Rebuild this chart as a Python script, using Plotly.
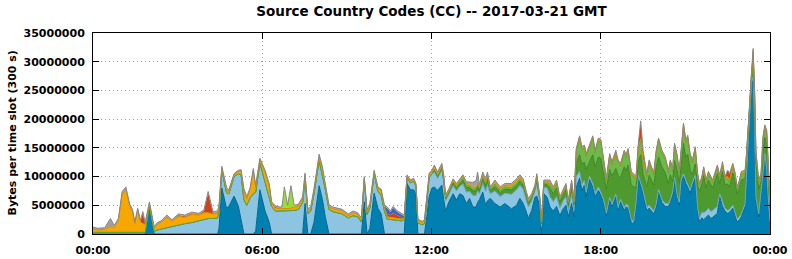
import plotly.graph_objects as go

# ---------------- data (values in millions of bytes per 300 s slot) ----------------
minutes = [
    # 00:00 - 04:25
    0, 10, 25, 37, 45, 54, 62, 70, 78, 84, 89, 95, 101, 106, 111, 120, 130, 137, 145, 157,
    168, 182, 195, 210, 225, 236, 245, 255, 265,
    # 04:28 - 08:22
    268, 274, 284, 289, 300, 309, 315, 321, 327, 334, 341, 346, 355, 366, 375, 380, 388, 398,
    402, 407, 414, 421, 428, 437, 446, 451, 457, 463, 470, 481, 488, 494, 502,
    # 08:30 - 12:01
    510, 530, 543, 553, 563, 571, 577, 583, 589, 598, 606, 613, 620, 626, 633, 638, 648, 656,
    662, 668, 675, 682, 687, 691, 700, 705, 710, 715, 721,
    # 12:06 - 17:03
    726, 733, 742, 746, 750, 757, 766, 773, 780, 787, 794, 801, 808, 815, 818, 822, 829, 835,
    839, 845, 855, 866, 876, 890, 901, 908, 915, 921, 926, 933, 940, 944, 950, 954, 959, 966,
    972, 979, 986, 993, 1000, 1006, 1011, 1018, 1023,
    # 17:08 - 24:00
    1028, 1035, 1040, 1045, 1049, 1056, 1063, 1068, 1075, 1080, 1086, 1092, 1099, 1104, 1112,
    1117, 1122, 1130, 1134, 1138, 1145, 1150, 1155, 1160, 1165, 1170, 1178, 1183, 1188, 1193,
    1198, 1203, 1210, 1217, 1224, 1228, 1233, 1237, 1242, 1247, 1251, 1256, 1261, 1265, 1270,
    1275, 1281, 1286, 1290, 1295, 1299, 1304, 1309, 1314, 1318, 1328, 1333, 1339, 1344, 1350,
    1354, 1361, 1366, 1370, 1375, 1379, 1387, 1390, 1396, 1401, 1404, 1407, 1410, 1416, 1421,
    1425, 1429, 1433, 1437, 1440,
]

dark_blue = [
    0, 0, 0, 0, 0, 0, 0, 0, 0, 0, 0, 0, 0, 0, 0, 4.8, 0, 0, 0, 0,
    0, 0, 0, 0, 0, 0, 0, 0, 0,
    1.0, 8.0, 4.5, 4.8, 6.6, 4.9, 2.5, 0, 0, 0, 0, 0.5, 7.7, 4.0, 2.0, 0, 0, 0,
    0, 0, 0, 0, 0, 0, 0, 5.3, 0, 0, 2.0, 8.4, 6.0, 3.0, 0,
    0, 0, 0, 0, 0, 0, 5.6, 0, 1.0, 7.1, 4.5, 3.5, 0, 0, 0, 0, 0, 0,
    0, 8.8, 7.7, 7.7, 7.0, 0, 0, 0, 3.0, 6.5, 8.0,
    8.2, 7.6, 8.5, 6.0, 4.0, 5.6, 7.0, 5.9, 7.0, 6.7, 5.3, 6.2, 4.7, 4.7, 5.5, 6.0, 7.3, 5.0,
    5.8, 6.2, 5.3, 4.7, 5.3, 4.4, 5.0, 6.2, 5.3, 4.0, 2.7, 4.1, 6.4, 6.6, 5.0, 0.1, 7.0, 6.4,
    4.7, 4.0, 4.8, 3.2, 4.4, 5.0, 3.0, 5.3, 3.0,
    8.2, 9.7, 7.6, 8.5, 6.5, 9.5, 8.2, 6.5, 7.6, 6.8, 5.5, 3.2, 5.9, 4.7, 6.5,
    4.1, 5.6, 4.1, 4.7, 4.5, 2.0, 1.8, 5.0, 9.7, 8.5, 7.0, 4.1, 4.5, 4.0, 3.5,
    4.7, 7.3, 5.5, 4.8, 4.8, 5.5, 6.8, 9.4, 6.5, 5.0, 9.0, 10.0, 8.8, 8.2, 7.1,
    8.5, 9.7, 4.0, 2.1, 2.8, 2.5, 3.0, 3.3, 2.7, 2.9, 3.6, 6.5, 4.8, 4.0, 3.6,
    3.8, 4.5, 3.0, 2.1, 2.5, 3.0, 4.8, 10.0, 19.0, 26.0, 26.8, 19.0, 6.0, 3.0, 6.5,
    10.0, 13.5, 10.6, 4.8, 1.9,
]

light_blue = [
    0.3, 0.3, 0.3, 0.3, 0.3, 0.3, 0.3, 0.3, 0.3, 0.3, 0.3, 0.3, 0.3, 0.3, 0.3, 0.2, 0.5, 0.7, 0.9, 1.1,
    1.3, 1.6, 1.8, 2.0, 2.3, 2.6, 2.7, 2.7, 2.8,
    3.0, 3.1, 2.7, 2.2, 3.4, 5.6, 7.8, 6.0, 5.0, 6.3, 7.0, 6.8, 4.7, 5.2, 4.6, 4.8, 4.0, 4.0,
    4.0, 4.0, 4.0, 4.0, 4.1, 4.3, 5.5, 4.4, 3.6, 4.0, 5.0, 4.4, 4.4, 4.8, 4.3,
    3.9, 3.5, 2.8, 3.2, 3.0, 2.1, 3.7, 3.4, 3.6, 3.3, 3.0, 3.2, 4.0, 2.6, 2.5, 2.5, 2.4, 2.3,
    2.5, 1.0, 1.2, 1.5, 1.3, 2.0, 1.6, 1.8, 2.5, 3.3, 2.5,
    2.6, 2.1, 2.6, 3.0, 1.8, 1.3, 1.4, 1.6, 1.3, 2.0, 2.0, 1.2, 2.0, 2.0, 2.0, 1.0, 1.5, 2.4,
    2.8, 0.8, 2.2, 1.8, 1.8, 2.5, 2.7, 2.3, 2.5, 2.0, 2.0, 1.6, 0.9, 2.0, 0.8, 1.2, 1.2, 1.6,
    1.8, 1.6, 1.7, 1.3, 1.4, 1.5, 1.0, 1.6, 1.1,
    1.8, 1.2, 1.0, 0.8, 0.8, 0.6, 0.6, 0.6, 0.6, 0.5, 0.5, 0.4, 0.5, 0.5, 0.5,
    0.5, 0.5, 0.5, 0.5, 0.5, 0.5, 0.4, 0.4, 0.5, 0.5, 0.5, 0.5, 0.5, 0.5, 0.5,
    0.5, 0.5, 0.5, 0.5, 0.5, 0.5, 0.5, 0.5, 0.5, 0.5, 0.5, 0.5, 0.5, 0.5, 0.5,
    0.5, 0.5, 0.5, 0.6, 1.0, 1.2, 1.0, 1.2, 1.2, 1.2, 1.2, 0.5, 0.6, 0.5, 0.5,
    0.5, 0.5, 0.5, 0.5, 0.5, 0.5, 0.5, 0.5, 0.5, 0.5, 0.5, 0.5, 0.5, 0.5, 0.5,
    0.5, 0.5, 0.5, 0.5, 0.3,
]

# green layers only carry traffic from noon on
green_minutes = minutes[minutes.index(721):]
dark_green = [
    0,
    0.3, 0.3, 0.3, 0.4, 0.3, 0.3, 0.5, 0.5, 0.5, 0.7, 0.8, 0.7, 0.8, 0.8, 0.8, 0.6, 0.8, 0.9,
    1.0, 0.5, 0.8, 0.7, 0.7, 0.8, 0.8, 0.7, 0.7, 0.6, 0.6, 0.5, 0.5, 0.8, 0.4, 0.5, 0.5, 0.6,
    1.5, 1.4, 1.5, 1.0, 1.1, 1.2, 1.0, 1.3, 1.0,
    2.4, 2.9, 3.6, 3.2, 4.0, 2.5, 5.0, 4.6, 5.2, 5.9, 4.7, 4.2, 4.8, 4.9, 4.4,
    5.6, 3.7, 7.1, 5.8, 7.0, 6.0, 6.0, 2.6, 2.5, 4.8, 2.9, 3.6, 5.2, 4.7, 4.5,
    6.5, 5.6, 5.7, 5.4, 3.5, 4.3, 1.8, 2.9, 4.2, 3.3, 2.3, 5.3, 4.0, 5.2, 3.6,
    1.3, 2.0, 3.9, 4.7, 4.8, 6.5, 4.0, 4.9, 4.6, 3.9, 5.7, 1.8, 5.5, 4.1, 4.6,
    3.8, 5.6, 5.6, 4.4, 5.1, 5.9, 4.4, 2.4, 1.5, 2.0, 3.0, 4.5, 6.0, 4.3, 2.1,
    4.2, 2.8, 4.6, 4.5, 2.4,
]
light_green = [
    0,
    0.2, 0.2, 0.2, 0.2, 0.2, 0.2, 0.2, 0.3, 0.3, 0.4, 0.4, 0.3, 0.4, 0.4, 0.4, 0.3, 0.4, 0.4,
    0.4, 0.2, 0.4, 0.4, 0.4, 0.4, 0.4, 0.4, 0.4, 0.3, 0.3, 0.3, 0.2, 0.4, 0.2, 0.2, 0.2, 0.3,
    0.7, 0.6, 0.7, 0.4, 0.4, 0.5, 0.4, 0.6, 0.4,
    2.0, 2.8, 2.5, 2.5, 2.2, 2.4, 2.8, 2.4, 2.8, 2.8, 2.3, 1.5, 2.3, 2.0, 2.4,
    2.2, 2.0, 2.4, 2.3, 2.4, 1.8, 1.8, 1.5, 2.2, 2.6, 2.3, 1.8, 2.2, 2.0, 1.8,
    2.4, 2.8, 2.4, 2.3, 1.8, 2.1, 1.8, 2.5, 2.3, 1.8, 2.3, 3.0, 2.6, 2.8, 2.3,
    2.1, 2.5, 1.7, 1.0, 1.0, 1.0, 0.9, 1.0, 1.0, 0.9, 1.0, 1.0, 1.0, 0.9, 1.0,
    0.9, 1.0, 1.0, 0.8, 0.9, 1.0, 0.9, 0.6, 0.5, 0.8, 1.0, 1.2, 1.4, 1.1, 1.0,
    1.5, 1.5, 1.7, 1.3, 0.7,
]

orange = [
    0.6, 0.4, 0.5, 1.0, 0.8, 2.0, 6.6, 7.4, 4.5, 3.6, 1.5, 3.8, 1.8, 1.5, 1.4, 0.3, 0.5, 1.0, 1.1, 1.8,
    0.9, 1.5, 1.1, 1.4, 1.0, 1.1, 1.0, 0.8, 0.8,
    0.6, 0.4, 0.5, 0.4, 0.3, 0.4, 0.6, 1.5, 1.1, 1.4, 4.0, 0.8, 0.5, 1.5, 1.7, 0.5, 0.5, 0.4,
    0.4, 0.5, 0.5, 0.5, 0.6, 0.6, 0.7, 0.6, 0.5, 0.4, 0.5, 0.6, 0.8, 0.6, 0.5,
    0.5, 0.5, 0.4, 0.5, 0.4, 0.4, 0.4, 0.5, 0.5, 0.4, 0.5, 0.8, 0.6, 0.4, 0.4, 0.3, 0.3, 0.3,
    0.3, 0.3, 0.3, 0.3, 0.3, 0.4, 0.4, 0.5, 0.4, 0.5, 0.4,
    0.4, 0.4, 0.4, 0.4, 0.3, 0.3, 0.3, 0.3, 0.3, 0.3, 0.3, 0.3, 0.3, 0.2, 0.3, 0.3, 0.4, 0.4,
    0.4, 0.3, 0.4, 0.3, 0.3, 0.4, 0.4, 0.4, 0.4, 0.4, 0.3, 0.3, 0.3, 0.4, 0.2, 0.3, 0.3, 0.3,
    0.3, 0.3, 0.4, 0.3, 0.3, 0.3, 0.3, 0.3, 0.3,
    0.3, 0.3, 0.3, 0.3, 0.3, 0.3, 0.3, 0.3, 0.3, 0.3, 0.3, 0.2, 0.3, 0.3, 0.3,
    0.3, 0.3, 0.3, 0.3, 0.3, 0.3, 0.3, 0.3, 0.3, 0.2, 0.3, 0.3, 0.3, 0.3, 0.3,
    0.3, 0.3, 0.3, 0.3, 0.3, 0.3, 0.3, 0.3, 0.3, 0.3, 0.3, 0.3, 0.3, 0.3, 0.3,
    0.3, 0.3, 0.3, 0.2, 0.2, 0.3, 0.3, 0.3, 0.3, 0.3, 0.3, 0.3, 0.3, 0.3, 0.3,
    0.3, 0.3, 0.3, 0.3, 0.3, 0.3, 0.3, 0.3, 0.3, 0.4, 0.5, 0.5, 0.4, 0.3, 0.3,
    0.4, 0.5, 0.5, 0.4, 0.5,
]

red = [
    0.1, 0.1, 0.1, 0.1, 0.1, 0.1, 0.2, 0.2, 0.2, 0.2, 0.1, 0.2, 0.1, 1.9, 0.1, 0.1, 0.1, 0.1, 0.1, 0.2,
    0.1, 0.2, 0.2, 0.2, 0.1, 0.3, 3.5, 0.2, 0.2,
    0.2, 0.1, 0.2, 0.1, 0.1, 0.1, 0.1, 0.2, 0.2, 0.1, 0.2, 0.2, 0.2, 0.2, 0.2, 0.1, 0.2, 0.1,
    0.1, 0.1, 0.1, 0.1, 0.1, 0.1, 0.1, 0.1, 0.1, 0.1, 0.2, 0.3, 0.3, 0.2, 0.1,
    0.1, 0.1, 0.1, 0.1, 0.1, 0.1, 0.1, 0.1, 0.1, 0.2, 0.1, 0.2, 0.2, 0.5, 0.4, 0.8, 0.5, 0.3,
    0.2, 0.1, 0.1, 0.1, 0.1, 0.1, 0.1, 0.1, 0.1, 0.2, 0.1,
    0.1, 0.1, 0.1, 0.1, 0.1, 0.1, 0.1, 0.1, 0.1, 0.1, 0.1, 0.1, 0.1, 0.1, 0.1, 0.1, 0.1, 0.1,
    0.1, 0.1, 0.1, 0.1, 0.1, 0.1, 0.1, 0.1, 0.1, 0.1, 0.1, 0.1, 0.1, 0.1, 0.1, 0.1, 0.1, 0.1,
    0.1, 0.1, 0.1, 0.1, 0.1, 0.1, 0.1, 0.1, 0.1,
    0.1, 0.1, 0.1, 0.1, 0.1, 0.1, 0.1, 0.1, 0.1, 0.1, 0.1, 0.1, 0.1, 0.1, 0.4,
    0.1, 0.1, 0.1, 0.1, 0.1, 0.1, 0.1, 0.1, 0.5, 3.0, 1.5, 0.1, 0.1, 0.1, 0.1,
    0.1, 0.1, 0.1, 0.1, 0.1, 0.1, 0.1, 0.1, 0.1, 0.1, 0.1, 0.1, 0.1, 0.1, 0.1,
    0.1, 0.1, 0.1, 0.1, 0.1, 0.1, 0.1, 0.1, 0.1, 0.1, 0.1, 0.1, 0.3, 0.1, 1.0,
    1.2, 0.3, 0.1, 0.0, 0.0, 0.1, 0.1, 0.1, 0.1, 0.1, 0.2, 0.1, 0.1, 0.1, 0.1,
    0.1, 0.1, 0.1, 0.1, 0.1,
]

navy_minutes = [620, 626, 633, 638, 648, 656, 662, 668]
navy = [0, 1.0, 0.5, 1.0, 0.6, 0.5, 0.1, 0]

lime_minutes = [398, 402, 407, 414, 421, 428, 437]
lime = [0, 0.1, 3.5, 0.3, 3.7, 0.1, 0]

gray = [
    0.2, 0.2, 0.2, 1.3, 0.3, 0.3, 0.3, 0.3, 0.2, 0.2, 0.2, 0.2, 0.2, 0.2, 0.2, 0.2, 0.2, 0.2, 0.2, 0.2,
    0.2, 0.2, 0.2, 0.2, 0.2, 0.2, 0.2, 0.2, 0.2,
    0.2, 0.2, 0.2, 0.2, 0.1, 0.1, 0.2, 0.2, 0.2, 0.2, 0.2, 0.2, 0.1, 0.2, 0.2, 0.2, 0.2, 0.2,
    0.1, 0.1, 0.1, 0.1, 0.1, 0.2, 0.2, 0.2, 0.2, 0.2, 0.2, 0.2, 0.2, 0.2, 0.2,
    0.2, 0.2, 0.2, 0.2, 0.2, 0.2, 0.2, 0.2, 0.2, 0.1, 0.1, 0.1, 0.2, 0.2, 0.2, 0.2, 0.2, 0.2,
    0.2, 0.1, 0.1, 0.1, 0.1, 0.1, 0.1, 0.1, 0.1, 0.1, 0.1,
    0.2, 0.1, 0.2, 0.2, 0.1, 0.1, 0.1, 0.1, 0.1, 0.1, 0.2, 0.2, 0.7, 1.1, 1.7, 0.3, 0.3, 0.3,
    0.3, 0.1, 0.2, 0.2, 0.2, 0.2, 0.2, 0.2, 0.2, 0.2, 0.2, 0.1, 0.1, 0.2, 0.1, 0.1, 0.1, 0.1,
    0.3, 0.2, 0.2, 0.2, 0.2, 0.2, 0.1, 0.2, 0.1,
    0.1, 0.1, 0.1, 0.1, 0.1, 0.1, 0.1, 0.1, 0.1, 0.1, 0.1, 0.1, 0.1, 0.1, 0.1,
    0.1, 0.1, 0.1, 0.1, 0.1, 0.1, 0.1, 0.1, 0.1, 0.1, 0.1, 0.1, 0.1, 0.1, 0.1,
    0.1, 0.1, 0.1, 0.1, 0.1, 0.1, 0.1, 0.1, 0.1, 0.1, 0.1, 0.1, 0.1, 0.1, 0.1,
    0.1, 0.1, 0.1, 0.1, 0.1, 0.1, 0.1, 0.1, 0.1, 0.1, 0.1, 0.1, 0.1, 0.1, 0.1,
    0.1, 0.1, 0.1, 0.1, 0.1, 0.1, 0.1, 0.1, 0.1, 0.2, 0.3, 0.2, 0.2, 0.1, 0.1,
    0.2, 0.1, 0.1, 0.1, 0.1,
]

x_tick_minutes = [0, 360, 720, 1080, 1440]
x_tick_labels = ["00:00", "06:00", "12:00", "18:00", "00:00"]
y_tick_values = [0, 5000000, 10000000, 15000000, 20000000, 25000000, 30000000, 35000000]
y_tick_labels = ["0", "5000000", "10000000", "15000000", "20000000", "25000000", "30000000", "35000000"]

title_text = "Source Country Codes (CC) -- 2017-03-21 GMT"
y_title_text = "Bytes per time slot (300 s)"

for name, arr, xs in [("dark_blue", dark_blue, minutes), ("light_blue", light_blue, minutes),
                      ("dark_green", dark_green, green_minutes), ("light_green", light_green, green_minutes),
                      ("orange", orange, minutes), ("red", red, minutes), ("gray", gray, minutes),
                      ("navy", navy, navy_minutes), ("lime", lime, lime_minutes)]:
    assert len(arr) == len(xs), (name, len(arr), len(xs))

# ---------------- figure ----------------
MILLION = 1e6
layers = [
    # name, values, x, fill, line colour, line width
    ("dark blue", dark_blue, minutes, "#0080b0", "#00658e", 1),
    ("light blue", light_blue, minutes, "#8dc4e2", "#6aa6c8", 1),
    ("dark green", dark_green, green_minutes, "#4f9a2e", "#3f8424", 1),
    ("light green", light_green, green_minutes, "#6cb94c", "#5aa63c", 1),
    ("orange", orange, minutes, "#f7a800", "#d99000", 1),
    ("red", red, minutes, "#d2401a", "#d2401a", 0),
    ("navy", navy, navy_minutes, "#3a64c0", "#3a64c0", 0),
    ("lime", lime, lime_minutes, "#99dd33", "#99dd33", 0),
    ("gray", gray, minutes, "#a0a0a0", "#878787", 1),
]

fig = go.Figure()
for name, vals, xs, fill, lcol, lw in layers:
    fig.add_trace(go.Scatter(
        x=xs, y=[v * MILLION for v in vals], name=name, mode="lines",
        stackgroup="cc", fillcolor=fill,
        line=dict(color=lcol, width=lw, shape="linear"),
        hoverinfo="skip",
    ))

axis_common = dict(
    showline=True, linecolor="black", linewidth=1, mirror="ticks",
    ticks="inside", ticklen=6, tickcolor="black", tickwidth=1,
    showgrid=True, gridcolor="#a0a0a0", gridwidth=1, griddash="1px,3px",
    zeroline=False, automargin=False,
    tickfont=dict(family="DejaVu Sans", size=11, color="black", weight="bold"),
)

fig.update_layout(
    width=792, height=259,
    margin=dict(l=93, r=22, t=33, b=25, pad=0),
    paper_bgcolor="white", plot_bgcolor="white",
    showlegend=False,
    font=dict(family="DejaVu Sans", size=11, color="black"),
    title=dict(text="<b>" + title_text + "</b>", x=0.5, xref="paper", xanchor="center",
               y=1 - 11.5 / 259, yref="container", yanchor="middle",
               font=dict(family="DejaVu Sans", size=13.5, color="black")),
    xaxis=dict(range=[0, 1440], tickmode="array", tickvals=x_tick_minutes, ticktext=x_tick_labels,
               ticklabelstandoff=6, **axis_common),
    yaxis=dict(range=[0, 35000000], tickmode="array", tickvals=y_tick_values, ticktext=y_tick_labels,
               ticklabelstandoff=5, **axis_common),
    annotations=[dict(text="<b>" + y_title_text + "</b>", xref="paper", yref="paper",
                      x=(12 - 93) / 677, y=0.5, xanchor="center", yanchor="middle",
                      textangle=-90, showarrow=False,
                      font=dict(family="DejaVu Sans", size=11, color="black"))],
)

fig.write_html("out.html")
